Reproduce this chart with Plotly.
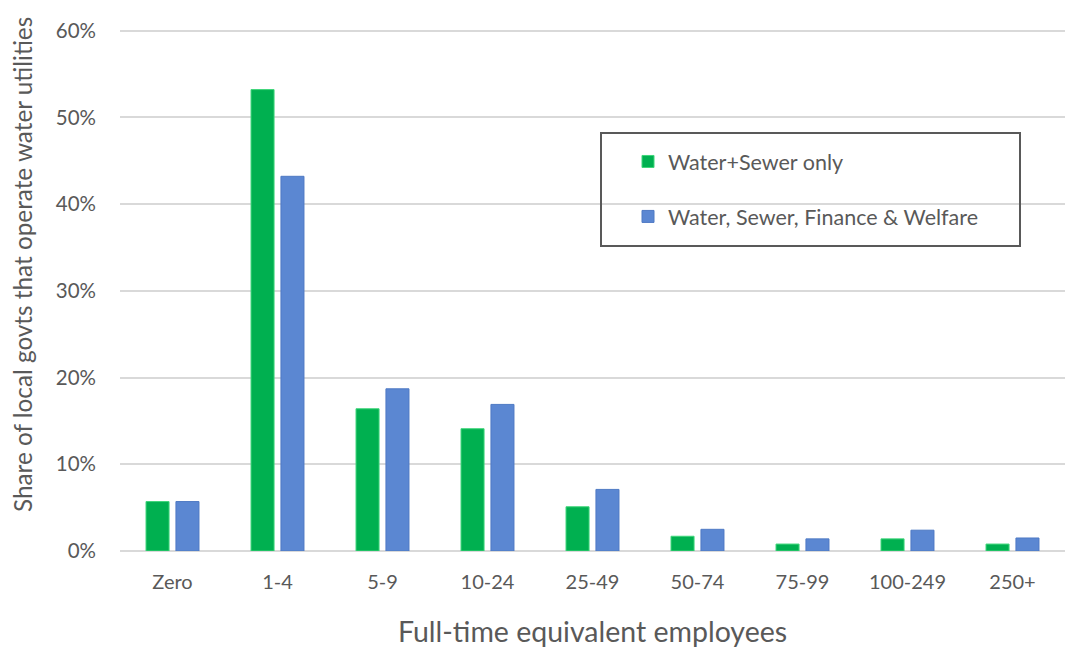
import plotly.graph_objects as go

# Employee size bands (full-time equivalents)
categories = ["Zero", "1-4", "5-9", "10-24", "25-49", "50-74", "75-99", "100-249", "250+"]

# Share of local governments operating water utilities, by staffing band
water_sewer_only = [0.057, 0.532, 0.164, 0.141, 0.051, 0.017, 0.008, 0.014, 0.008]
water_sewer_fin_welfare = [0.057, 0.432, 0.187, 0.169, 0.071, 0.025, 0.014, 0.024, 0.015]

series_names = ["Water+Sewer only", "Water, Sewer, Finance & Welfare"]
y_ticks = [0, 0.1, 0.2, 0.3, 0.4, 0.5, 0.6]

FONT = "Lato"
GREY = "#595959"

# Plot area geometry in pixels (used to place the legend frame and y title)
PLOT_LEFT, PLOT_RIGHT = 120, 1065
PLOT_TOP, PLOT_BOTTOM = 28, 551
PW = PLOT_RIGHT - PLOT_LEFT
PH = PLOT_BOTTOM - PLOT_TOP


def px_x(px):
    return (px - PLOT_LEFT) / PW


def px_y(py):
    return (PLOT_BOTTOM - py) / PH


fig = go.Figure()
fig.add_trace(go.Bar(
    x=categories, y=water_sewer_only, name=series_names[0],
    marker=dict(color="#00B050", line=dict(color="#3FD67A", width=1)),
    legendgroup="a",
))
fig.add_trace(go.Bar(
    x=categories, y=water_sewer_fin_welfare, name=series_names[1],
    marker=dict(color="#5B87D2", line=dict(color="#4F7AC4", width=1)),
    legendgroup="b",
))

fig.update_layout(
    width=1065, height=650,
    margin=dict(l=PLOT_LEFT, r=1065 - PLOT_RIGHT, t=PLOT_TOP, b=650 - PLOT_BOTTOM),
    paper_bgcolor="white", plot_bgcolor="white",
    barmode="group", bargap=0.43, bargroupgap=0.23,
    font=dict(family=FONT, color=GREY),
    showlegend=True,
    legend=dict(
        x=px_x(628), y=px_y(141), xanchor="left", yanchor="top",
        bgcolor="rgba(0,0,0,0)", borderwidth=0,
        font=dict(family=FONT, size=21.5, color=GREY),
        traceorder="grouped", tracegroupgap=24,
    ),
    xaxis=dict(
        showgrid=False, showline=False, ticks="",
        tickfont=dict(family=FONT, size=20, color=GREY),
        ticklabelstandoff=17,
        title=dict(text="Full-time equivalent employees",
                   font=dict(family=FONT, size=28.5, color=GREY), standoff=30),
    ),
    yaxis=dict(
        range=[0, 0.603], tickvals=y_ticks, tickformat=".0%",
        showgrid=True, gridcolor="#D9D9D9", gridwidth=2,
        zeroline=True, zerolinecolor="#D9D9D9", zerolinewidth=2,
        showline=False, ticks="",
        tickfont=dict(family=FONT, size=20.5, color=GREY),
        ticklabelstandoff=23,
    ),
    annotations=[dict(
        text="Share of local govts that operate water utilities",
        xref="paper", yref="paper", x=px_x(22), y=px_y(265),
        xanchor="center", yanchor="middle", textangle=-90, showarrow=False,
        font=dict(family=FONT, size=24.3, color=GREY),
    )],
    shapes=[dict(
        type="rect", xref="paper", yref="paper",
        x0=px_x(601), x1=px_x(1020), y0=px_y(246), y1=px_y(133),
        line=dict(color="#595959", width=2), fillcolor="rgba(0,0,0,0)",
    )],
)

fig.write_html("out.html")
